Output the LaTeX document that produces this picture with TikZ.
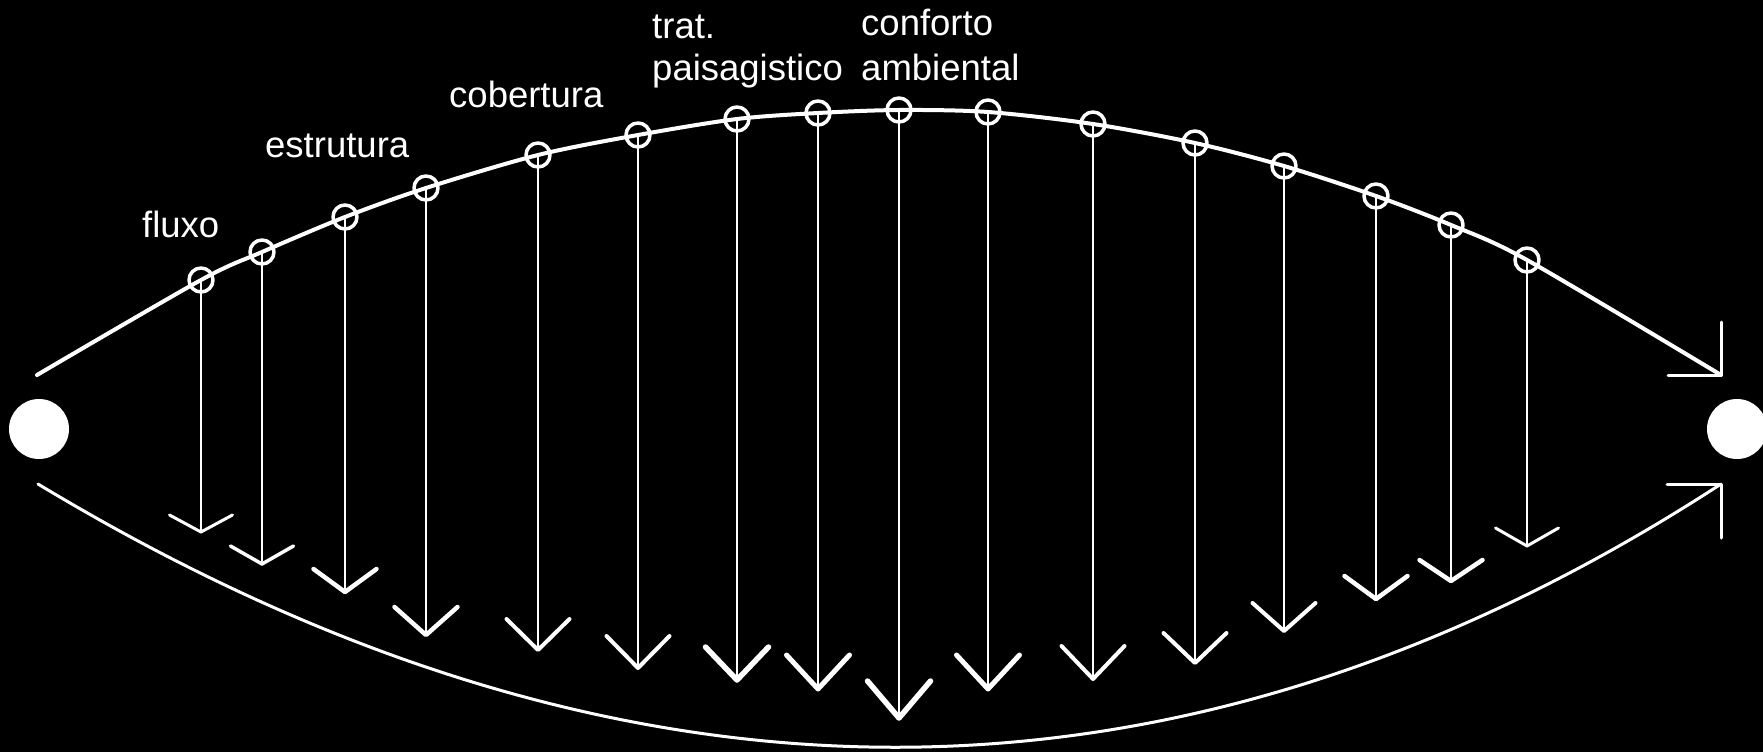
\documentclass[tikz,border=0pt]{standalone}
\usepackage{fontspec}
\setmainfont{Liberation Sans}
\begin{document}
\begin{tikzpicture}[x=1pt,y=-1pt,
  line cap=round, line join=round,
  lbl/.style={text=white, font=\fontsize{36.5}{42}\selectfont, inner sep=0pt, anchor=base west, align=left},
  knot/.style={circle, draw=white, line width=3.5pt, minimum size=24pt, inner sep=0pt},
  bigdot/.style={circle, fill=white, minimum size=60pt, inner sep=0pt},
  shaft/.style={draw=white, line width=2.5pt},
  topcurve/.style={draw=white, line width=4pt},
  botcurve/.style={draw=white, line width=3pt},
  endhead/.style={draw=white, line width=3pt},
]
\fill[black] (0,0) rectangle (1763,752);
\useasboundingbox (0,0) rectangle (1763,752);

\node[bigdot] (L) at (39,429) {};
\node[bigdot] (R) at (1737,429) {};
\coordinate (ts) at (37,375);
\coordinate (te) at (1721,375);
\coordinate (bs) at (38,484);
\coordinate (be) at (1721,484);
\coordinate (bc1) at (620,835);
\coordinate (bc2) at (1181,835);

\foreach \i/\x/\y/\t/\d/\w in {
  1/201/280/532/17/3, 2/262/252/564/18/3.5, 3/345/217/592/23/4.5,
  4/426/188/635/28/4.5, 5/538/155/650/31/4, 6/638/135/668/32/4,
  7/737/119/680/33/5.5, 8/818/113/689/34/5, 9/899/110/718/37/5.5,
  10/988/112/689/34/5, 11/1093/124/679/33/4, 12/1195/143/663/30/4,
  13/1284/166/631/28/4, 14/1376/196/599/23/4.5, 15/1451/225/581/21/4.5,
  16/1527/260/546/18/3}{
  \node[knot] (k\i) at (\x,\y) {};
  \coordinate (a\i) at (k\i |- 0,\t);
  \draw[shaft] (k\i.center) -- (a\i);
  \draw[white, line width=\w pt] (a\i) ++(-31.5,-\d) -- (a\i) -- ++(31.5,-\d);
}

\draw[topcurve] plot[smooth] coordinates {(ts) (k1.center) (k2.center) (k3.center) (k4.center) (k5.center) (k6.center) (k7.center) (k8.center) (k9.center) (k10.center) (k11.center) (k12.center) (k13.center) (k14.center) (k15.center) (k16.center) (te)};
\draw[endhead] (te) ++(-53,0) -- (te) -- ++(0,-53);

\draw[botcurve] (bs) .. controls (bc1) and (bc2) .. (be);
\draw[endhead] (be) ++(-54,0) -- (be) -- ++(0,54);

\node[lbl] (fluxo) at (142,237) {fluxo};
\node[lbl] (estr) at (265,157) {estrutura};
\node[lbl] (cob) at (449,107) {cobertura};
\node[lbl] (trat) at (652,81) {trat.\\paisagistico};
\node[lbl] (conf) at (861,81) {conforto\\[3pt]ambiental};
\end{tikzpicture}
\end{document}
